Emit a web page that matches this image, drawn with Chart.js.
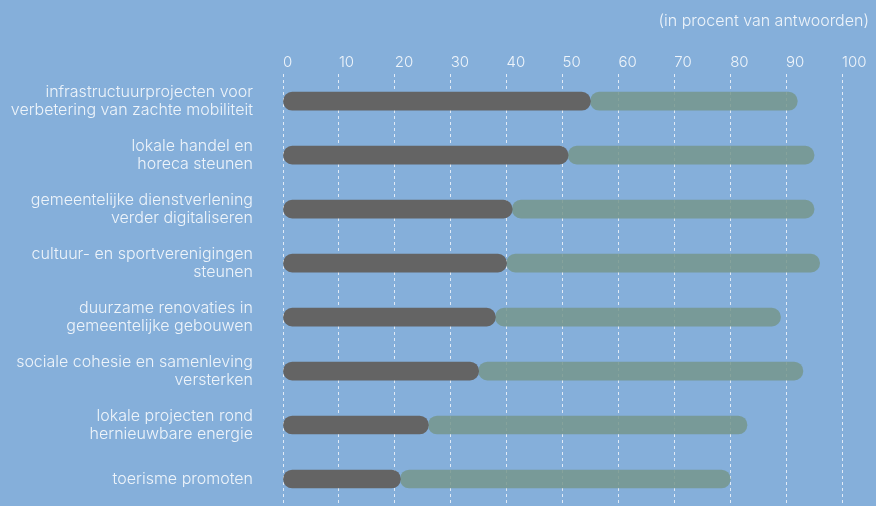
<!DOCTYPE html>
<html>
<head>
<meta charset="utf-8">
<script src="https://cdn.jsdelivr.net/npm/chart.js@4"></script>
<style>
  html, body { margin: 0; padding: 0; background: #85afda; }
  canvas { display: block; }
</style>
</head>
<body>
<canvas id="myChart" width="876" height="506"></canvas>
<script>
var categories = [
  ['infrastructuurprojecten voor', 'verbetering van zachte mobiliteit'],
  ['lokale handel en', 'horeca steunen'],
  ['gemeentelijke dienstverlening', 'verder digitaliseren'],
  ['cultuur- en sportverenigingen', 'steunen'],
  ['duurzame renovaties in', 'gemeentelijke gebouwen'],
  ['sociale cohesie en samenleving', 'versterken'],
  ['lokale projecten rond', 'hernieuwbare energie'],
  'toerisme promoten'
];
var darkValues = [55, 51, 41, 40, 38, 35, 26, 21];
var greenValues = [37, 44, 54, 56, 51, 58, 57, 59];
var tickMin = 0, tickMax = 100, tickStep = 10;
var chartTitle = '(in procent van antwoorden)';

var textColor = '#eef4fa';
var fontName = 'Inter';
// round every corner, also the inner ends of the stacked bars
var radius = { topLeft: 10, topRight: 10, bottomLeft: 10, bottomRight: 10 };

var mychart = document.getElementById('myChart').getContext('2d');
var myBarChart = new Chart(mychart, {
  type: 'bar',
  data: {
    labels: categories,
    datasets: [{
      label: 'a',
      data: darkValues,
      backgroundColor: '#646464',
      borderRadius: radius,
      borderSkipped: false,
      barThickness: 18
    }, {
      label: 'b',
      data: greenValues,
      backgroundColor: 'rgba(118,150,140,0.85)',
      borderRadius: radius,
      borderSkipped: false,
      barThickness: 18
    }]
  },
  options: {
    responsive: false,
    devicePixelRatio: 1,
    animation: false,
    indexAxis: 'y',
    layout: { padding: { left: 0, right: 7, top: 0, bottom: 0 } },
    plugins: {
      legend: { display: false },
      tooltip: { enabled: false },
      title: {
        display: true,
        text: chartTitle,
        align: 'end',
        color: textColor,
        font: { family: fontName, size: 16, weight: '300', lineHeight: 1.2 },
        padding: { top: 12, bottom: 19 }
      }
    },
    scales: {
      x: {
        position: 'top',
        stacked: true,
        min: tickMin,
        max: tickMax,
        afterFit: function (s) { s.paddingRight = 34; },
        ticks: {
          stepSize: tickStep,
          align: 'start',
          padding: 3,
          color: textColor,
          font: { family: fontName, size: 15, weight: '300', lineHeight: 1.2 }
        },
        grid: {
          color: 'rgba(240,245,250,0.85)',
          lineWidth: 1,
          drawTicks: false
        },
        border: { display: false, dash: [3, 3] }
      },
      y: {
        stacked: true,
        afterFit: function (s) {
          s.width = 283;
          s.paddingTop = 0;
          s.paddingBottom = 0;
        },
        ticks: {
          padding: 30,
          color: textColor,
          font: { family: fontName, size: 16, weight: '300', lineHeight: 1.15 }
        },
        grid: { display: false, drawTicks: false },
        border: { display: false }
      }
    }
  }
});
</script>
</body>
</html>
